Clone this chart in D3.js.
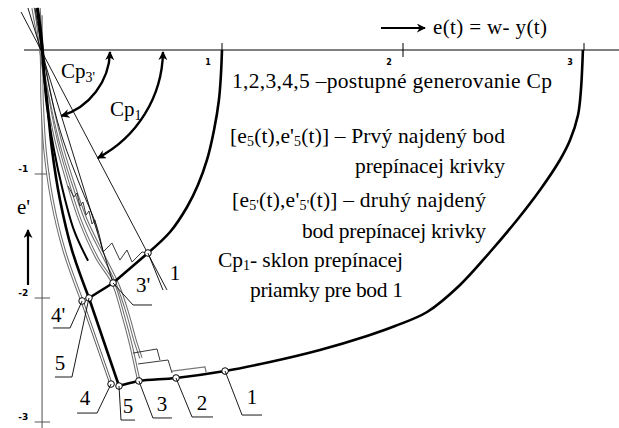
<!DOCTYPE html>
<html><head><meta charset="utf-8">
<script src="https://cdn.jsdelivr.net/npm/d3@7"></script>
<style>
html,body{margin:0;padding:0;background:#fff;}
svg{display:block;}
</style></head><body>
<svg id="c" width="619" height="428"></svg>
<script>
// Phase plane: e(t) on the horizontal axis, e'(t) on the vertical axis
const xTicks = [1, 2, 3];
const yTicks = [-1, -2, -3];

// switching curve generated from e = 3 down to point 5
const switchOuter = [[2.994,0],[2.983,-0.323],[2.967,-0.524],[2.923,-0.726],[2.867,-0.887],[2.757,-1.129],[2.630,-1.371],[2.481,-1.629],[2.315,-1.895],[2.133,-2.113],[1.956,-2.226],[1.801,-2.306],[1.541,-2.419],[1.265,-2.516],[1.017,-2.589],[0.746,-2.645],[0.541,-2.669],[0.431,-2.710]];
// switching curve generated from e = 1 down to point 1
const switchInner = [[1,0],[0.994,-0.202],[0.983,-0.403],[0.956,-0.645],[0.917,-0.887],[0.867,-1.089],[0.807,-1.266],[0.713,-1.468],[0.591,-1.637]];
// found switching points 1 -> 3' -> 5'
const switchLink = [[0.591,-1.637],[0.398,-1.879],[0.265,-2.0]];
// sliding segments 5' -> 5 and 4' -> 4
const slide5 = [[0.265,-2.0],[0.431,-2.710]];
const slide4 = [[0.227,-2.024],[0.387,-2.694]];

// trajectories leaving the origin
const traj5 = [[-0.022,0.339],[-0.006,0.161],[0.006,0],[0.017,-0.202],[0.033,-0.403],[0.061,-0.806],[0.105,-1.210],[0.171,-1.613],[0.265,-2.0]];
const traj5b = [[-0.017,0.339],[0.0,0.161],[0.011,0],[0.028,-0.403],[0.072,-0.806],[0.116,-1.105],[0.182,-1.452],[0.260,-1.700]];
const traj4 = [[-0.044,0.339],[-0.022,0.161],[0,0],[0.006,-0.403],[0.022,-0.806],[0.061,-1.210],[0.127,-1.613],[0.227,-2.024]];
const traj3 = [[-0.028,0.339],[0,0],[0.039,-0.403],[0.083,-0.726],[0.144,-1.048],[0.215,-1.371],[0.309,-1.677],[0.398,-1.879],[0.453,-2.137],[0.497,-2.379],[0.525,-2.565],[0.541,-2.669]];
const traj2 = [[-0.011,0.339],[0.006,0],[0.055,-0.403],[0.105,-0.726],[0.171,-1.048],[0.249,-1.371],[0.343,-1.653],[0.425,-1.895],[0.481,-2.137],[0.519,-2.339],[0.552,-2.484]];
const traj1 = [[-0.033,0.339],[0.006,0],[0.061,-0.403],[0.122,-0.726],[0.215,-1.089],[0.309,-1.427],[0.343,-1.629]];
// chattering around switching point 1
const chatter1 = [[0.343,-1.629],[0.392,-1.556],[0.436,-1.694],[0.475,-1.613],[0.503,-1.710],[0.558,-1.629],[0.591,-1.637]];
const stairs = [[0.149,-1.097],[0.182,-1.185],[0.199,-1.153],[0.215,-1.258],[0.232,-1.226],[0.249,-1.331],[0.265,-1.298],[0.282,-1.403],[0.298,-1.371],[0.315,-1.476]];
const chatterA = [[0.508,-2.444],[0.641,-2.411],[0.657,-2.5]];
const chatterB = [[0.536,-2.532],[0.702,-2.5],[0.724,-2.605]];
const chatterC = [[0.724,-2.589],[0.906,-2.556],[0.912,-2.597]];

// switching lines through the origin (Cp1 and Cp3')
const lineCp1 = [[-0.110,0.306],[0.696,-1.935]];
const lineCp3 = [[-0.072,0.339],[0.398,-1.879]];

// marked points
const points = [[0.591,-1.637],[0.398,-1.879],[0.265,-2.0],[0.227,-2.024],[0.387,-2.694],[0.431,-2.710],[0.541,-2.669],[0.746,-2.645],[1.017,-2.589]];
const pointNames = ["1", "3'", "5", "4'", "4", "5", "3", "2", "1"];

const svg = d3.select("#c");
const x = d3.scaleLinear().domain([0, 3]).range([41, 584]);
const y = d3.scaleLinear().domain([0, -3]).range([50, 422]);
const line = d3.line().x(d => x(d[0])).y(d => y(d[1]));
const smooth = d3.line().x(d => x(d[0])).y(d => y(d[1])).curve(d3.curveCatmullRom.alpha(0.5));
const serif = "'Liberation Serif', 'Times New Roman', serif";

const defs = svg.append("defs");
defs.append("marker").attr("id", "ah").attr("viewBox", "0 0 10 10").attr("refX", 9).attr("refY", 5)
  .attr("markerWidth", 9).attr("markerHeight", 9).attr("markerUnits", "userSpaceOnUse").attr("orient", "auto-start-reverse")
  .append("path").attr("d", "M0,0 L10,5 L0,10 L3,5 Z").attr("fill", "#000");

// axes
svg.append("line").attr("x1", x(-0.094)).attr("x2", 619).attr("y1", y(0)).attr("y2", y(0)).attr("stroke", "#000").attr("stroke-width", 1);
svg.append("line").attr("x1", x(0.006)).attr("x2", x(0.006)).attr("y1", y(0.28)).attr("y2", 428).attr("stroke", "#777").attr("stroke-width", 1.3);
yTicks.forEach(t => {
  svg.append("line").attr("x1", x(-0.035)).attr("x2", x(0.05)).attr("y1", y(t)).attr("y2", y(t)).attr("stroke", "#555").attr("stroke-width", 1);
  svg.append("text").attr("x", x(-0.07)).attr("y", y(t) - 2).attr("text-anchor", "end")
    .style("font-family", "'DejaVu Sans'").attr("font-weight", "bold").attr("font-size", 9).text("-" + Math.abs(t));
});
xTicks.forEach(t => {
  svg.append("line").attr("x1", x(t)).attr("x2", x(t)).attr("y1", y(0) - 7).attr("y2", t === 2 ? y(0) + 7 : y(0)).attr("stroke", "#000").attr("stroke-width", 1);
  svg.append("text").attr("x", x(t) - 14).attr("y", y(0) + 15).attr("text-anchor", "middle")
    .style("font-family", "'DejaVu Sans'").attr("font-weight", "bold").attr("font-size", 8).text(t);
});

// hollow (double) grey trajectories
function hollow(data) {
  svg.append("path").attr("d", smooth(data)).attr("fill", "none").attr("stroke", "#6e6e6e").attr("stroke-width", 3.4);
  svg.append("path").attr("d", smooth(data)).attr("fill", "none").attr("stroke", "#fff").attr("stroke-width", 1.3);
}
hollow(traj4);
hollow(traj3);
hollow(traj2);
svg.append("path").attr("d", line(slide4)).attr("fill", "none").attr("stroke", "#555").attr("stroke-width", 3.2);
svg.append("path").attr("d", line(slide4)).attr("fill", "none").attr("stroke", "#fff").attr("stroke-width", 1.3);

// thin lines
[lineCp1, lineCp3].forEach(d => svg.append("path").attr("d", line(d)).attr("fill", "none").attr("stroke", "#000").attr("stroke-width", 0.9));
svg.append("path").attr("d", smooth(traj1)).attr("fill", "none").attr("stroke", "#000").attr("stroke-width", 0.9);
[chatter1, stairs, chatterA, chatterB].forEach(d => svg.append("path").attr("d", line(d)).attr("fill", "none").attr("stroke", "#222").attr("stroke-width", 0.9));
svg.append("path").attr("d", line(chatterC)).attr("fill", "none").attr("stroke", "#777").attr("stroke-width", 1.2);

// thick trajectories and switching curves
svg.append("path").attr("d", smooth(traj5b)).attr("fill", "none").attr("stroke", "#000").attr("stroke-width", 2);
svg.append("path").attr("d", smooth(traj5)).attr("fill", "none").attr("stroke", "#000").attr("stroke-width", 2.6);
svg.append("path").attr("d", line(slide5)).attr("fill", "none").attr("stroke", "#000").attr("stroke-width", 2.6);
svg.append("path").attr("d", smooth(switchOuter)).attr("fill", "none").attr("stroke", "#000").attr("stroke-width", 2.6);
svg.append("path").attr("d", smooth(switchInner)).attr("fill", "none").attr("stroke", "#000").attr("stroke-width", 2.6);
svg.append("path").attr("d", line(switchLink)).attr("fill", "none").attr("stroke", "#000").attr("stroke-width", 2.6);

// angle arcs for Cp3' and Cp1, centred on the origin
function angleArc(lineData, r) {
  const ox = x(0), oy = y(0);
  const dx = x(lineData[1][0]) - x(lineData[0][0]), dy = y(lineData[1][1]) - y(lineData[0][1]);
  const n = Math.hypot(dx, dy);
  const ex = ox + r * dx / n, ey = oy + r * dy / n;
  svg.append("path").attr("d", `M${ox + r},${oy + 2} A${r},${r} 0 0 1 ${ex},${ey}`)
    .attr("fill", "none").attr("stroke", "#000").attr("stroke-width", 2.4)
    .attr("marker-start", "url(#ah)").attr("marker-end", "url(#ah)");
}
angleArc(lineCp3, 69);
angleArc(lineCp1, 122);

// point markers
svg.selectAll("circle.pt").data(points).join("circle").attr("class", "pt")
  .attr("cx", d => x(d[0])).attr("cy", d => y(d[1])).attr("r", 3.3)
  .attr("fill", "#fff").attr("stroke", "#000").attr("stroke-width", 1);

// labels with leader lines: [point index, leader offsets..., label offset]
const leaders = [
  [0, [[15, 37]], [27, 27]],
  [1, [[20, 22], [39, 22]], [30, 9]],
  [3, [[-12, 27], [-29, 27]], [-24, 21]],
  [2, [[-17, 79], [-34, 79]], [-29, 72]],
  [4, [[-14, 29], [-34, 29]], [-26, 21]],
  [5, [[2, 34], [16, 34]], [9, 27]],
  [6, [[14, 37], [33, 37]], [23, 30]],
  [7, [[16, 39], [37, 39]], [26, 32]],
  [8, [[17, 44], [37, 44]], [27, 33]]
];
leaders.forEach(([i, segs, lab]) => {
  const px = x(points[i][0]), py = y(points[i][1]);
  const pts = [[px, py]].concat(segs.map(s => [px + s[0], py + s[1]]));
  svg.append("polyline").attr("points", pts.map(p => p.join(",")).join(" "))
    .attr("fill", "none").attr("stroke", "#000").attr("stroke-width", 0.9);
  svg.append("text").attr("x", px + lab[0]).attr("y", py + lab[1]).attr("text-anchor", "middle")
    .style("font-family", serif).attr("font-size", 21).text(pointNames[i]);
});

// axis titles
svg.append("line").attr("x1", 381).attr("x2", 425).attr("y1", 28).attr("y2", 28)
  .attr("stroke", "#000").attr("stroke-width", 2.2).attr("marker-end", "url(#ah)");
svg.append("text").attr("x", 433).attr("y", 34).style("font-family", serif).attr("font-size", 21)
  .attr("textLength", 114).attr("lengthAdjust", "spacing").text("e(t) = w- y(t)");
svg.append("text").attr("x", 17).attr("y", 214).style("font-family", serif).attr("font-size", 21).text("e'");
svg.append("line").attr("x1", 28).attr("x2", 28).attr("y1", 285).attr("y2", 230)
  .attr("stroke", "#000").attr("stroke-width", 2.2).attr("marker-end", "url(#ah)");

// Cp labels
function cpLabel(tx, ty, sub) {
  const t = svg.append("text").attr("x", tx).attr("y", ty).style("font-family", serif).attr("font-size", 21);
  t.append("tspan").text("Cp");
  t.append("tspan").attr("font-size", 14).attr("dy", 4).text(sub);
}
cpLabel(61, 78, "3'");
cpLabel(110, 116, "1");

// explanatory notes, each stretched to its line width
function note(tx, ty, width, parts) {
  const t = svg.append("text").attr("x", tx).attr("y", ty).style("font-family", serif).attr("font-size", 21.5)
    .attr("textLength", width).attr("lengthAdjust", "spacing");
  parts.forEach(p => {
    if (typeof p === "string") t.append("tspan").text(p);
    else t.append("tspan").attr("font-size", 14).attr("baseline-shift", "-3").text(p.sub);
  });
}
note(232, 88, 320, ["1,2,3,4,5 –postupné generovanie Cp"]);
note(230, 143, 275, ["[e", {sub: "5"}, "(t),e'", {sub: "5"}, "(t)] – Prvý najdený bod"]);
note(355, 173, 150, ["prepínacej krivky"]);
note(232, 207, 254, ["[e", {sub: "5'"}, "(t),e'", {sub: "5'"}, "(t)] – druhý najdený"]);
note(302, 238, 184, ["bod prepínacej krivky"]);
note(218, 267, 185, ["Cp", {sub: "1"}, "- sklon prepínacej"]);
note(250, 297, 153, ["priamky pre bod 1"]);
</script>
</body></html>
